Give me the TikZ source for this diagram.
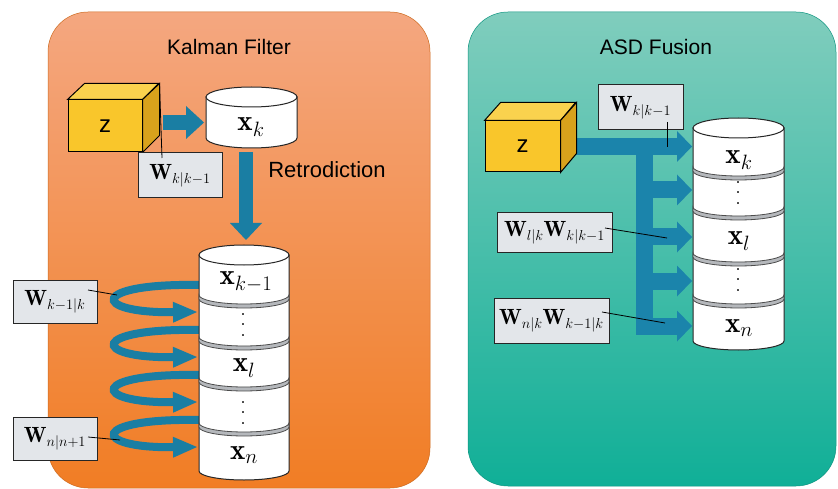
\documentclass[tikz,border=0pt]{standalone}
\usepackage{fontspec}
\newfontfamily\helv{Liberation Sans}
\usetikzlibrary{arrows.meta,calc}

\definecolor{kfTop}{HTML}{F4A780}
\definecolor{kfBot}{HTML}{F17D24}
\definecolor{asdTop}{HTML}{80CDBD}
\definecolor{asdBot}{HTML}{10AF97}
\definecolor{flowBlue}{HTML}{1A7EA3}
\definecolor{fuseBlue}{HTML}{1B84AB}
\definecolor{cubeFront}{HTML}{F9C62B}
\definecolor{cubeSide}{HTML}{D8A21C}
\definecolor{cubeTop}{HTML}{FAD24E}
\definecolor{boxGray}{HTML}{E3E6EA}
\definecolor{sepGray}{HTML}{B5B8BC}

\tikzset{
  title/.style={font=\helv\fontsize{21}{25}\selectfont},
  wbox/.style={draw=black!85, fill=boxGray, line width=1pt, inner sep=1pt,
    font=\fontsize{22}{26}\selectfont},
  xlab/.style={inner sep=0pt, font=\fontsize{29}{32}\selectfont},
  dlab/.style={inner sep=0pt, align=center, font=\fontsize{24}{10.5}\selectfont},
  cubeface/.style={draw, line width=1pt, fill=cubeFront, inner sep=0pt,
    font=\helv\fontsize{24}{26}\selectfont},
  cyl/.style={draw=black!85, fill=white, line width=1pt},
  sepband/.style={draw=black!70, fill=sepGray, line width=0.8pt},
  flow/.style={flowBlue, line width=15pt,
    -{Triangle[length=18pt,width=33pt,line width=0pt]}},
  loopflow/.style={flowBlue, line width=8pt,
    -{Triangle[length=24pt,width=21pt,line width=0pt]}},
  fuse/.style={fuseBlue, line width=17pt,
    -{Triangle[length=15pt,width=31pt,line width=0pt]}},
  callout/.style={draw=black, line width=0.8pt}
}

\begin{document}
\begin{tikzpicture}[x=1pt,y=-1pt]
\useasboundingbox[fill=white] (0,0) rectangle (838,489);

% panels
\shade[top color=kfTop, bottom color=kfBot, rounded corners=40pt] (48,12) rectangle (430,488);
\shade[top color=asdTop, bottom color=asdBot, rounded corners=40pt] (468,12) rectangle (836,486);
\draw[kfBot!85!black, line width=0.5pt, rounded corners=40pt] (48,12) rectangle (430,488);
\draw[asdBot!85!black, line width=0.5pt, rounded corners=40pt] (468,12) rectangle (836,486);
\node[title] (kfTitle) at (229,47) {Kalman Filter};
\node[title] (asdTitle) at (656,47) {ASD Fusion};

% ---------------- Kalman filter ----------------
% retrodiction loops (behind the stack)
\foreach \y in {285,330,375,420} {
  \coordinate (loopA) at (199,\y);
  \coordinate (loopB) at (197,\y+27);
  \draw[loopflow] (loopA) .. controls (90,\y-2) and (90,\y+28) .. (loopB);
}

% x_k cylinder
\filldraw[cyl] (206,97) -- (206,138) arc[start angle=180,end angle=0,x radius=45.5,y radius=10] -- (297,97) -- cycle;
\filldraw[cyl] (251.5,97) ellipse[x radius=45.5,y radius=10];
\node[xlab] (xkL) at (251,127) {$\mathbf{x}_k$};

% stacked cylinder
\filldraw[cyl] (199,255) -- (199,471) arc[start angle=180,end angle=0,x radius=45,y radius=9] -- (289,255) -- cycle;
\filldraw[cyl] (244,255) ellipse[x radius=45,y radius=10];
\foreach \c in {297,339,380,425}
  \filldraw[sepband] (199,\c-2) arc[start angle=180,end angle=0,x radius=45,y radius=9]
    -- (289,\c+2) arc[start angle=0,end angle=180,x radius=45,y radius=9] -- cycle;
\node[xlab] (xk1L) at (246,282) {$\mathbf{x}_{k-1}$};
\node[dlab] (d1L) at (243,325) {.\\.\\.};
\node[xlab] (xlL) at (244,368) {$\mathbf{x}_l$};
\node[dlab] (d2L) at (243,413) {.\\.\\.};
\node[xlab] (xnL) at (244,455) {$\mathbf{x}_n$};

% measurement cube
\node[cubeface, minimum width=74pt, minimum height=52pt] (zL) at (105,126) {z};
\draw[line width=1pt, fill=cubeTop] (zL.north west) -- ++(17,-16) -- ++(74,0) -- (zL.north east) -- cycle;
\draw[line width=1pt, fill=cubeSide] (zL.north east) -- ++(17,-16) -- ++(0,52) -- (zL.south east) -- cycle;

% flows
\coordinate (zLout) at (163,122.5);
\coordinate (xkLin) at (204,122.5);
\draw[flow] (zLout) -- (xkLin);
\coordinate (retroA) at (246,152);
\coordinate (retroB) at (246,240);
\draw[flow, line width=14pt, -{Triangle[length=17pt,width=32pt,line width=0pt]}] (retroA) -- (retroB);
\node[title, font=\helv\fontsize{22}{26}\selectfont] (retro) at (327,170) {Retrodiction};

% weights
\node[wbox, minimum width=84pt, minimum height=45pt] (wkL) at (180,175.5) {$\mathbf{W}_{k|k-1}$};
\node[wbox, minimum width=84pt, minimum height=43pt] (wk1L) at (55,301.5) {$\mathbf{W}_{k-1|k}$};
\node[wbox, minimum width=84pt, minimum height=43pt] (wnL) at (55,438.5) {$\mathbf{W}_{n|n+1}$};
\coordinate (zLcorner) at ($(zL.north east)+(17,-16)$);
\coordinate (wkLend) at (162,158);
\draw[callout] (zLcorner) -- (wkLend);
\coordinate (wk1Ls) at (88,290);
\coordinate (wk1Le) at (117,295);
\draw[callout] (wk1Ls) -- (wk1Le);
\coordinate (wnLs) at (88,437);
\coordinate (wnLe) at (120,440);
\draw[callout] (wnLs) -- (wnLe);

% ---------------- ASD fusion ----------------
% stacked cylinder
\filldraw[cyl] (693,128) -- (693,341) arc[start angle=180,end angle=0,x radius=45.5,y radius=9] -- (784,128) -- cycle;
\filldraw[cyl] (738.5,128) ellipse[x radius=45.5,y radius=10];
\foreach \c in {169,209,255,297}
  \filldraw[sepband] (693,\c-2) arc[start angle=180,end angle=0,x radius=45.5,y radius=9]
    -- (784,\c+2) arc[start angle=0,end angle=180,x radius=45.5,y radius=9] -- cycle;
\node[xlab] (xkR) at (739,160) {$\mathbf{x}_k$};
\node[dlab] (d1R) at (738,193) {.\\.\\.};
\node[xlab] (xlR) at (739,241) {$\mathbf{x}_l$};
\node[dlab] (d2R) at (738,280) {.\\.\\.};
\node[xlab] (xnR) at (739,328) {$\mathbf{x}_n$};

% fusion arrows
\coordinate (trunkTop) at (644.5,138);
\coordinate (trunkBot) at (644.5,334.5);
\draw[fuseBlue, line width=17pt] (trunkTop) -- (trunkBot);
\foreach \y in {190,237,281,326} {
  \coordinate (brA) at (636,\y);
  \coordinate (brB) at (692,\y);
  \draw[fuse] (brA) -- (brB);
}

% measurement cube
\node[cubeface, minimum width=75pt, minimum height=51pt] (zR) at (522.5,146.5) {z};
\coordinate (inK) at (692,146.5);
\draw[fuse] (zR.east) -- (inK);
\draw[line width=1pt, fill=cubeTop] (zR.north west) -- ++(16,-18) -- ++(75,0) -- (zR.north east) -- cycle;
\draw[line width=1pt, fill=cubeSide] (zR.north east) -- ++(16,-18) -- ++(0,51) -- (zR.south east) -- cycle;

% weights
\node[wbox, minimum width=85pt, minimum height=45pt] (wkR) at (640.5,107.5) {$\mathbf{W}_{k|k-1}$};
\node[wbox, minimum width=115pt, minimum height=39pt] (wlR) at (554.5,232.5) {$\mathbf{W}_{l|k}\mathbf{W}_{k|k-1}$};
\node[wbox, minimum width=115pt, minimum height=45pt] (wnR) at (551.5,320.5) {$\mathbf{W}_{n|k}\mathbf{W}_{k-1|k}$};
\coordinate (wkRs) at (667,122);
\coordinate (wkRe) at (667,147);
\draw[callout] (wkRs) -- (wkRe);
\coordinate (wlRs) at (605,228);
\coordinate (wlRe) at (667,238);
\draw[callout] (wlRs) -- (wlRe);
\coordinate (wnRs) at (602,312);
\coordinate (wnRe) at (665,323);
\draw[callout] (wnRs) -- (wnRe);
\end{tikzpicture}
\end{document}
